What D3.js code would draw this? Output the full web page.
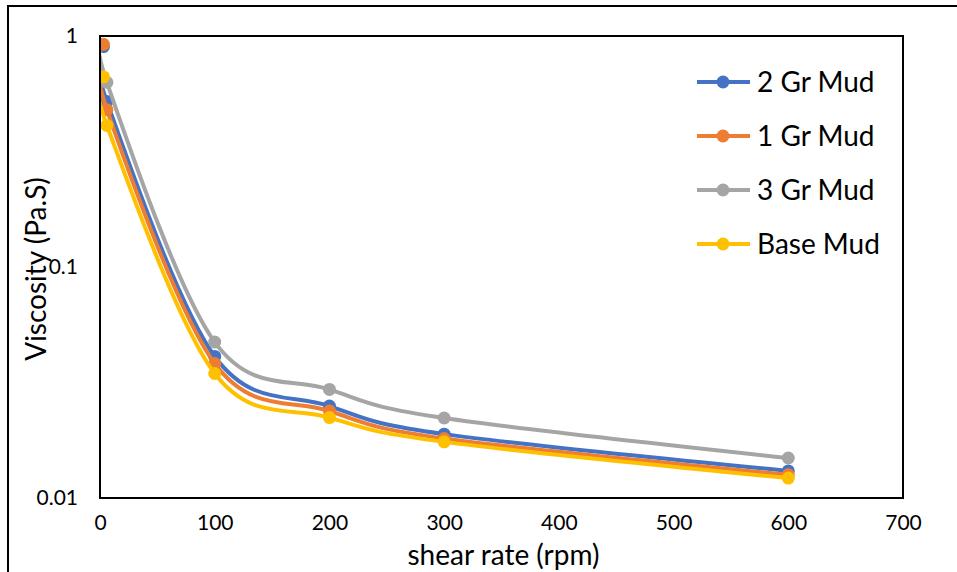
<!DOCTYPE html>
<html>
<head>
<meta charset="utf-8">
<script src="https://cdn.jsdelivr.net/npm/d3@7"></script>
<style>
  body { margin: 0; background: #fff; }
  text { font-family: Lato, "Open Sans", sans-serif; fill: #000; }
</style>
</head>
<body>
<svg id="chart" width="957" height="572"></svg>
<script>
// shear rate (rpm)
var shearRate = [3, 6, 100, 200, 300, 600];
// viscosity (Pa.S) per mud
var mud2Gr = [0.9, 0.52, 0.041, 0.0250, 0.0189, 0.0131];
var mud1Gr = [0.92, 0.48, 0.0382, 0.0238, 0.0181, 0.0126];
var mud3Gr = [1.15, 0.63, 0.0473, 0.0295, 0.0222, 0.0149];
var mudBase = [0.665, 0.41, 0.0346, 0.0223, 0.0175, 0.0122];
var seriesNames = ["2 Gr Mud", "1 Gr Mud", "3 Gr Mud", "Base Mud"];
var xTicks = [0, 100, 200, 300, 400, 500, 600, 700];
var yTicks = [0.01, 0.1, 1];

var series = [
  {name: seriesNames[0], vals: mud2Gr, color: "#4472C4"},
  {name: seriesNames[1], vals: mud1Gr, color: "#ED7D31"},
  {name: seriesNames[2], vals: mud3Gr, color: "#A5A5A5"},
  {name: seriesNames[3], vals: mudBase, color: "#FFC000"}
];

var svg = d3.select("#chart");
var plot = {left: 100, top: 36, right: 903, bottom: 498};

var x = d3.scaleLinear().domain([0, 700]).range([plot.left, plot.right]);
var y = d3.scaleLog().domain([0.01, 1]).range([plot.bottom, plot.top]);

// clip so points above 1 are hidden like in Excel
svg.append("defs").append("clipPath").attr("id", "plotClip")
  .append("rect")
  .attr("x", plot.left).attr("y", plot.top)
  .attr("width", plot.right - plot.left).attr("height", plot.bottom - plot.top);

// outer chart border
svg.append("rect")
  .attr("x", 8).attr("y", 6)
  .attr("width", 1000).attr("height", 700)
  .attr("fill", "none").attr("stroke", "#000").attr("stroke-width", 2);

// axes (labels only, Excel style)
var xAxis = svg.append("g")
  .attr("transform", "translate(0," + plot.bottom + ")")
  .call(d3.axisBottom(x).tickValues(xTicks).tickSize(0).tickPadding(25).tickFormat(d3.format("d")));
xAxis.select(".domain").remove();
xAxis.selectAll("text").style("font-size", "21px").attr("dy", "0.35em");

var yAxis = svg.append("g")
  .attr("transform", "translate(" + (plot.left - 22) + ",0)")
  .call(d3.axisLeft(y).tickValues(yTicks).tickSize(0).tickPadding(0).tickFormat(function(d){ return String(d); }));
yAxis.select(".domain").remove();
yAxis.selectAll("text").style("font-size", "21px");

// axis titles
svg.append("text")
  .attr("x", (plot.left + plot.right) / 2 + 2)
  .attr("y", 565)
  .attr("text-anchor", "middle")
  .style("font-size", "28px")
  .text("shear rate (rpm)");

svg.append("text")
  .attr("transform", "translate(46," + 269 + ") rotate(-90)")
  .attr("text-anchor", "middle")
  .style("font-size", "28px")
  .text("Viscosity (Pa.S)");

// series
var line = d3.line()
  .x(function(d){ return x(d[0]); })
  .y(function(d){ return y(d[1]); })
  .curve(d3.curveCatmullRom.alpha(0));

var marks = svg.append("g").attr("clip-path", "url(#plotClip)");
series.forEach(function(s){
  var pts = shearRate.map(function(r, i){ return [r, s.vals[i]]; });
  var g = marks.append("g");
  g.append("path")
    .datum(pts)
    .attr("d", line)
    .attr("fill", "none")
    .attr("stroke", s.color)
    .attr("stroke-width", 4)
    .attr("stroke-linejoin", "round");
  g.selectAll("circle").data(pts).enter().append("circle")
    .attr("cx", function(d){ return x(d[0]); })
    .attr("cy", function(d){ return y(d[1]); })
    .attr("r", 6.5)
    .attr("fill", s.color);
});

// plot area box
svg.append("rect")
  .attr("x", plot.left).attr("y", plot.top)
  .attr("width", plot.right - plot.left).attr("height", plot.bottom - plot.top)
  .attr("fill", "none").attr("stroke", "#000").attr("stroke-width", 2);

// legend
var legend = svg.append("g").attr("class", "legend");
var rowY = d3.scalePoint().domain(seriesNames).range([82, 244]);
series.forEach(function(s){
  var gy = rowY(s.name);
  legend.append("line")
    .attr("x1", 697).attr("x2", 750).attr("y1", gy).attr("y2", gy)
    .attr("stroke", s.color).attr("stroke-width", 4);
  legend.append("circle")
    .attr("cx", 723).attr("cy", gy).attr("r", 6.5).attr("fill", s.color);
  legend.append("text")
    .attr("x", 757).attr("y", gy).attr("dy", "0.36em")
    .style("font-size", "28px")
    .text(s.name);
});
</script>
</body>
</html>
